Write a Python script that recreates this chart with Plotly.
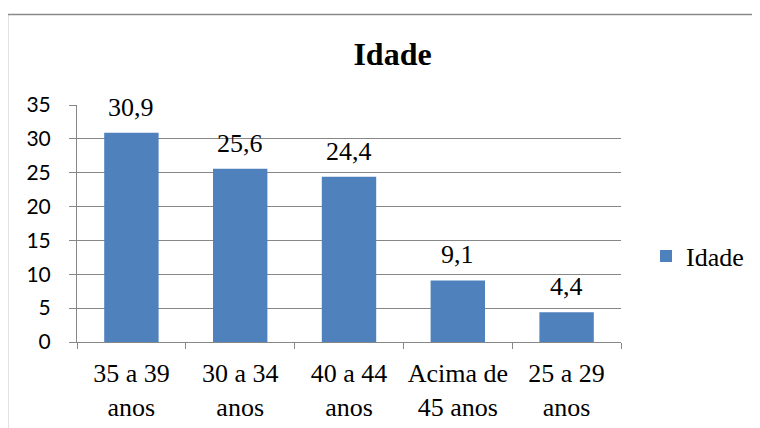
import plotly.graph_objects as go

categories = ["35 a 39<br>anos", "30 a 34<br>anos", "40 a 44<br>anos", "Acima de<br>45 anos", "25 a 29<br>anos"]
values = [30.9, 25.6, 24.4, 9.1, 4.4]
value_labels = ["30,9", "25,6", "24,4", "9,1", "4,4"]
series_name = "Idade"
title_text = "Idade"

BAR_COLOR = "#4F81BD"
GRID = "#878787"
SERIF = "Liberation Serif"
SANS = "Lato"

# page body has an 8px margin; work in window pixels and shift
O = 8
W, H = 760 - O, 428 - O
L, R, T, B = 77 - O, 621 - O, 105 - O, 342 - O
pw, ph = R - L, B - T

def px(x):
    return (x - O - L) / pw

def py(y):
    return (B - (y - O)) / ph

fig = go.Figure()
fig.add_trace(go.Bar(
    x=categories, y=values, name=series_name,
    marker=dict(color=BAR_COLOR, line=dict(width=0)),
    width=0.5, showlegend=True,
))

for c, v, t in zip(categories, values, value_labels):
    fig.add_annotation(x=c, y=v, text=t, showarrow=False, yanchor="bottom",
                       yshift=9, font=dict(family=SERIF, size=26, color="black"))

# outer chart border
fig.add_shape(type="rect", xref="paper", yref="paper",
              x0=px(7.5), x1=px(790), y0=py(14.5), y1=py(460),
              line=dict(color="#8a8a8a", width=1.5), fillcolor="rgba(0,0,0,0)", layer="below")

fig.update_layout(
    width=W, height=H,
    margin=dict(l=L, r=W - R, t=T, b=H - B, pad=0, autoexpand=False),
    paper_bgcolor="white", plot_bgcolor="white",
    title=dict(text="<b>" + title_text + "</b>", xref="paper", x=px(392.5), xanchor="center",
               yref="container", y=1 - (54 - O) / H, yanchor="middle",
               font=dict(family=SERIF, size=32, color="black")),
    showlegend=True,
    legend=dict(x=px(646), xanchor="left", y=py(256), yanchor="middle",
                font=dict(family=SERIF, size=26, color="black"),
                bgcolor="rgba(0,0,0,0)", itemclick=False),
    bargap=0.5,
)

fig.update_yaxes(range=[0, 35], dtick=5, tick0=0, showgrid=True, gridcolor=GRID, gridwidth=1,
                 showline=True, linecolor=GRID, linewidth=1, ticks="outside", ticklen=7,
                 tickcolor=GRID, ticklabelstandoff=14, zeroline=False,
                 tickfont=dict(family=SANS, size=21, color="black"), fixedrange=True)
fig.update_xaxes(type="category", showgrid=False, showline=True, linecolor=GRID, linewidth=1,
                 ticks="outside", ticklen=6, tickcolor=GRID, tickson="boundaries",
                 ticklabelstandoff=8, tickangle=0,
                 tickfont=dict(family=SERIF, size=26, color="black"), fixedrange=True)

fig.write_html("out.html")
